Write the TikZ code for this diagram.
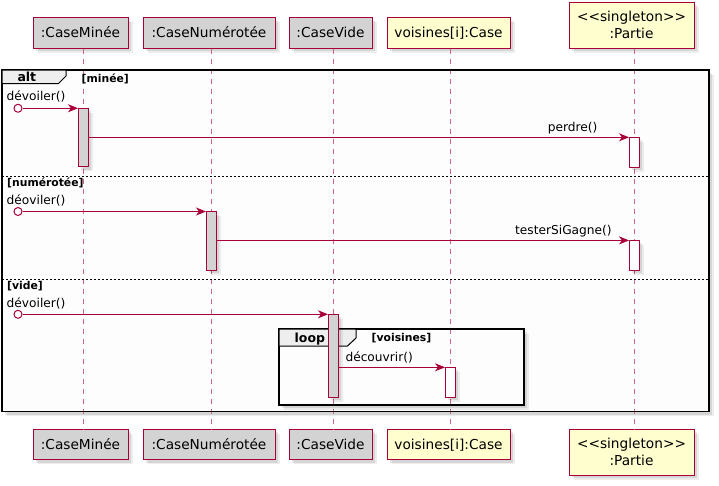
\documentclass[tikz,border=0pt]{standalone}
\usepackage{fontspec}
\setmainfont{DejaVu Sans}
\usetikzlibrary{arrows.meta}
\definecolor{plred}{HTML}{A80036}
\definecolor{plgray}{HTML}{D3D3D3}
\definecolor{plyel}{HTML}{FEFECE}
\definecolor{tabgray}{HTML}{EEEEEE}
\definecolor{framebg}{HTML}{FDFDFD}
\newcommand\ptfont{\fontsize{13.7}{17.5}\selectfont}
\newcommand\msgfont{\fontsize{12.2}{14}\selectfont}
\newcommand\grdfont{\fontsize{10.8}{12}\selectfont\bfseries}
\newcommand\kwfont{\fontsize{12.5}{14}\selectfont\bfseries}
\tikzset{
  shd/.style={
    preaction={draw=none, fill=black, fill opacity=0.07, transform canvas={shift={(4.5pt,-4.5pt)}}},
    preaction={draw=none, fill=black, fill opacity=0.10, transform canvas={shift={(3pt,-3pt)}}}},
  part/.style={shd, draw=plred, line width=1pt, inner sep=0pt, font=\ptfont, align=center},
  partg/.style={part, fill=plgray, text height=10, text depth=0},
  party/.style={part, fill=plyel},
  partyone/.style={party, text height=10, text depth=0},
  lifeline/.style={draw=plred!60!white, line width=1pt, dash pattern=on 5pt off 5pt},
  actbar/.style={shd, draw=plred, line width=1pt, minimum width=10, inner sep=0pt, outer sep=0pt},
  actg/.style={actbar, fill=plgray},
  actw/.style={actbar, fill=white},
  msg/.style={draw=plred, line width=1pt, -{Stealth[length=10pt, width=8pt, inset=3pt]}, fill=plred},
  found/.style={circle, draw=plred, fill=white, line width=1pt, minimum size=8, inner sep=0pt},
  msglabel/.style={anchor=base west, inner sep=0pt, font=\msgfont},
  guard/.style={anchor=base west, inner sep=0pt, font=\grdfont},
  kw/.style={anchor=base west, inner sep=0pt, font=\kwfont},
  framebox/.style={line width=1.6pt, draw=black},
  tabshape/.style={fill=tabgray, draw=black, line width=1pt},
  sep/.style={draw=black, line width=1pt, dash pattern=on 2pt off 2pt},
}
\begin{document}
\begin{tikzpicture}[x=1pt, y=-1pt]
\useasboundingbox (0,0) rectangle (719,485);

% frame backgrounds
\fill[shd, framebg] (2,70) rectangle (709,411.5);
\fill[shd, framebg] (279,329) rectangle (524,405);

% participants
\node[partg, minimum width=95, minimum height=30.5] (A) at (80.5,32.75) {:CaseMinée};
\node[partg, minimum width=132, minimum height=30.5] (B) at (209,32.75) {:CaseNumérotée};
\node[partg, minimum width=83, minimum height=30.5] (C) at (330.5,32.75) {:CaseVide};
\node[partyone, minimum width=123, minimum height=30.5] (D) at (448.5,32.75) {voisines[i]:Case};
\node[party, minimum width=125, minimum height=46] (E) at (631.5,25) {<{}<singleton>{}>\\:Partie};

\node[partg, minimum width=95, minimum height=30.5] (Ab) at (80.5,444.25) {:CaseMinée};
\node[partg, minimum width=132, minimum height=30.5] (Bb) at (209,444.25) {:CaseNumérotée};
\node[partg, minimum width=83, minimum height=30.5] (Cb) at (330.5,444.25) {:CaseVide};
\node[partyone, minimum width=123, minimum height=30.5] (Db) at (448.5,444.25) {voisines[i]:Case};
\node[party, minimum width=125, minimum height=46] (Eb) at (631.5,452) {<{}<singleton>{}>\\:Partie};

% lifelines
\coordinate (lA1) at (83,48.5);   \coordinate (lA2) at (83,429);
\coordinate (lB1) at (211,48.5);  \coordinate (lB2) at (211,429);
\coordinate (lC1) at (333,48.5);  \coordinate (lC2) at (333,429);
\coordinate (lD1) at (450,48.5);  \coordinate (lD2) at (450,429);
\coordinate (lE1) at (634,48.5);  \coordinate (lE2) at (634,429);
\draw[lifeline] (lA1) -- (lA2);
\draw[lifeline] (lB1) -- (lB2);
\draw[lifeline] (lC1) -- (lC2);
\draw[lifeline] (lD1) -- (lD2);
\draw[lifeline] (lE1) -- (lE2);

% alt frame
\draw[framebox] (2,70) rectangle (709,411.5);
\draw[tabshape] (2,70) -- (66,70) -- (66,76) -- (58.5,83.5) -- (2,83.5) -- cycle;
\node[kw] (altkw) at (17.3,81) {alt};
\node[guard] (g1) at (81.5,82) {[minée]};
\draw[sep] (2,176) -- (709,176);
\node[guard] (g2) at (7,186.5) {[numérotée]};
\draw[sep] (2,279) -- (709,279);
\node[guard] (g3) at (7,289.5) {[vide]};

% loop frame
\draw[framebox] (279,329) rectangle (524,405);
\draw[tabshape] (279,329) -- (356,329) -- (356,338) -- (347.5,346) -- (279,346) -- cycle;
\node[kw] (loopkw) at (294.5,342) {loop};
\node[guard] (g4) at (371.5,341.5) {[voisines]};

% activations
\node[actg, minimum height=58.5] (a1) at (83,137.5) {};
\node[actw, minimum height=30] (p1) at (634,152.3) {};
\node[actg, minimum height=58.5] (a2) at (211,240.75) {};
\node[actw, minimum height=30] (p2) at (634,255.4) {};
\node[actg, minimum height=83] (a3) at (333,355.8) {};
\node[actw, minimum height=30] (v1) at (450,382.3) {};

% messages
\node[found] (f1) at (18,108.25) {};
\draw[msg] (f1.east) -- (f1.east -| a1.west);
\node[msglabel] (m1) at (6.5,100.5) {dévoiler()};

\draw[msg] (p1.north west -| a1.east) -- (p1.north west);
\node[msglabel] (m2) at (547.7,131.8) {perdre()};

\node[found] (f2) at (18,211.5) {};
\draw[msg] (f2.east) -- (f2.east -| a2.west);
\node[msglabel] (m3) at (6.5,204) {déoviler()};

\draw[msg] (p2.north west -| a2.east) -- (p2.north west);
\node[msglabel] (m4) at (515,234.4) {testerSiGagne()};

\node[found] (f3) at (18,314.3) {};
\draw[msg] (f3.east) -- (f3.east -| a3.west);
\node[msglabel] (m5) at (6.5,307) {dévoiler()};

\draw[msg] (v1.north west -| a3.east) -- (v1.north west);
\node[msglabel] (m6) at (345.3,361.5) {découvrir()};
\end{tikzpicture}
\end{document}
